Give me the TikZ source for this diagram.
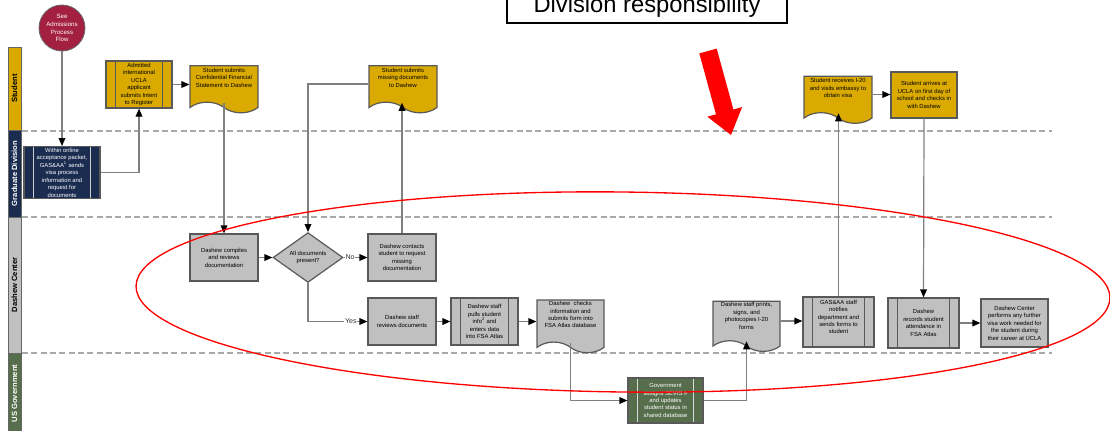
\documentclass[tikz,border=0pt]{standalone}
\usepackage{fontspec}
\setmainfont{Liberation Sans}
\usetikzlibrary{arrows.meta,shapes.geometric,shapes.symbols}

\definecolor{studgold}{RGB}{218,170,0}
\definecolor{gradnavy}{RGB}{26,44,80}
\definecolor{dashgray}{RGB}{192,192,192}
\definecolor{govgreen}{RGB}{86,110,76}
\definecolor{admcrimson}{RGB}{163,32,64}
\definecolor{flowgray}{RGB}{128,128,128}
\definecolor{lanedash}{RGB}{168,168,168}

\tikzset{
  box/.style={draw=black!65, line width=0.9pt, align=center, inner sep=1pt,
    font=\fontsize{4.4}{5.6}\selectfont, minimum width=51pt, minimum height=35.25pt},
  predef/.style={box, path picture={
    \draw[#1, line width=0.7pt]
      ([xshift=7pt]path picture bounding box.north west) -- ([xshift=7pt]path picture bounding box.south west)
      ([xshift=-7pt]path picture bounding box.north east) -- ([xshift=-7pt]path picture bounding box.south east);}},
  predef/.default=black!65,
  docbox/.style={box, shape=tape, tape bend top=none, tape bend bottom=out and in, tape bend height=8pt},
  decide/.style={box, shape=diamond, minimum width=52.5pt, minimum height=36.75pt, inner sep=0pt},
  flow/.style={draw=flowgray, line width=0.9pt, -{Triangle[color=black, length=6pt, width=5pt]}},
  lanebar/.style={draw=black!60, line width=0.6pt, rotate=90, minimum height=9.75pt, inner sep=0pt,
    font=\fontsize{5.7}{6}\selectfont\bfseries},
  lanesep/.style={draw=lanedash, line width=1pt, dash pattern=on 4.5pt off 2.5pt},
  branch/.style={font=\fontsize{5.3}{6}\selectfont, text=black!80, inner sep=0.5pt, fill=white},
}

\begin{document}
\begin{tikzpicture}[x=0.75pt,y=0.75pt,yscale=-1,xscale=1]
\useasboundingbox (0,0) rectangle (1110,430);

%Shape: Swim lanes
\node[lanebar, fill=studgold, minimum width=62.25pt] (lstudent) at (14.5,88.5) {Student};
\node[lanebar, fill=gradnavy, text=white, minimum width=65.25pt] (lgrad) at (14.5,173.5) {Graduate Division};
\node[lanebar, fill=dashgray, minimum width=102pt] (ldashew) at (14.5,285) {Dashew Center};
\node[lanebar, fill=govgreen, text=white, minimum width=60.75pt] (lgov) at (14.5,393.5) {US Government};
%Straight Lines: lane separators
\draw[lanesep] (22,131) -- (1052,131);
\draw[lanesep] (22,217) -- (1052,217);
\draw[lanesep] (22,353) -- (1052,353);

%Shape: Start
\node[circle, fill=admcrimson, draw=black!60, line width=0.6pt, minimum size=34.5pt, inner sep=0pt,
  text=white, align=center, font=\fontsize{4.6}{5.9}\selectfont] (seeadm) at (62,28) {See\\Admissions\\Process\\Flow};

% Student lane
\node[predef, fill=studgold, minimum width=49.5pt] (admit) at (139,84.5) {Admitted\\international\\UCLA\\applicant\\submits Intent\\to Register};
\node[docbox, fill=studgold] (finstmt) at (224,84) {Student submits\\Confidential Financial\\Statement to Dashew\\[4pt]};
\node[docbox, fill=studgold] (missdoc) at (403,84) {Student submits\\missing documents\\to Dashew\\[4pt]};
\node[docbox, fill=studgold] (visa) at (838,94.5) {Student receives I-20\\and visits embassy to\\obtain visa\\[4pt]};
\node[box, fill=studgold, minimum width=49.5pt, minimum height=34.5pt] (arrive) at (924,95) {Student arrives at\\UCLA on first day of\\school and checks in\\with Dashew};

% Graduate Division lane
\node[predef=black!20, fill=gradnavy, text=white, minimum width=57pt, minimum height=38.25pt] (gdpacket) at (62,172.5) {Within online\\acceptance packet,\\GAS\&AA\textsuperscript{1} sends\\visa process\\information and\\request for\\documents};

% Dashew Center lane
\node[box, fill=dashgray] (compile) at (224,257.5) {Dashew compiles\\and reviews\\documentation};
\node[decide, fill=dashgray] (alldocs) at (308,257.5) {All documents\\present?};
\node[box, fill=dashgray] (contact) at (402,257.5) {Dashew contacts\\student to request\\missing\\documentation};
\node[box, fill=dashgray] (review) at (402,321.5) {Dashew staff\\reviews documents};
\node[predef, fill=dashgray, minimum width=50.25pt] (pullinfo) at (484.5,321.5) {Dashew staff\\pulls student\\info\textsuperscript{2} and\\enters data\\into FSA Atlas};
\node[docbox, fill=dashgray, minimum width=50.25pt] (fsaform) at (570.5,321) {Dashew\ \ checks\\information and\\submits form into\\FSA Atlas database\\[4pt]};
\node[docbox, fill=dashgray, minimum width=50.25pt] (printi) at (746.5,321) {Dashew staff prints,\\signs, and\\photocopies I-20\\forms\\[2pt]};
\node[predef, fill=dashgray, minimum width=53.25pt, minimum height=37.5pt] (notify) at (838.5,322) {GAS\&AA staff\\notifies\\department and\\sends forms to\\student\\[2pt]};
\node[predef, fill=dashgray, minimum width=53.25pt, minimum height=37.5pt] (attend) at (923.5,323) {Dashew\\records student\\attendance in\\FSA Atlas};
\node[box, fill=dashgray, minimum width=50.25pt, minimum height=36pt] (further) at (1014.5,323) {Dashew Center\\performs any further\\visa work needed for\\the student during\\their career at UCLA};

% US Government lane
\node[predef=black!15, fill=govgreen, text=white, minimum width=56.25pt, minimum height=33.75pt] (sevis) at (665.5,400.5) {Government\\assigns SEVIS \#\\and updates\\student status in\\shared database};

%Straight Lines: connectors
\draw[flow] (seeadm) -- (gdpacket);
\draw[flow] (gdpacket.east) -| (admit.south);
\draw[flow] (admit.east) -- (admit.east -| finstmt.west);
\draw[flow] (finstmt.south) -- (compile.north);
\draw[flow] (compile.east) -- (alldocs.west);
\draw[flow] (alldocs.east) -- node[branch, pos=0.03, anchor=west] (nolbl) {No} (contact.west);
\draw[flow] (contact.north) -- (contact.north |- missdoc.south);
\draw[flow] (missdoc.west) -| (alldocs.north);
\draw[flow] (alldocs.south) |- node[branch, pos=0.86] (yeslbl) {Yes} (review.west);
\draw[flow] (review.east) -- (pullinfo.west);
\draw[flow] (pullinfo.east) -- (pullinfo.east -| fsaform.west);
\draw[flow] (fsaform.south) |- (sevis.west);
\draw[flow] (sevis.east) -| (printi.south);
\draw[flow] (printi.east) -- (printi.east -| notify.west);
\draw[flow] (notify.north) -- (notify.north |- visa.south);
\draw[flow] (visa.east) -- (visa.east -| arrive.west);
\draw[flow] (arrive.south) -- (attend.north);
\draw[flow] (attend.east) -- (further.west);

%Shape: Ellipse
\draw[red, line width=1pt, rotate around={0.7:(623,292)}] (623,292) ellipse [x radius=487, y radius=100];
%Shape: Arrow
\fill[red] (699.3,53.4) -- (716.7,48.6) -- (733.4,109.5) -- (742.1,107.1) -- (731,135) -- (707.3,116.7) -- (716,114.3) -- cycle;
% Text Node
\node[draw=black, line width=0.8pt, fill=white, minimum width=210pt, minimum height=25.5pt,
  font=\fontsize{17.8}{20}\selectfont] (divresp) at (647,6) {Division responsibility};

\end{tikzpicture}
\end{document}
